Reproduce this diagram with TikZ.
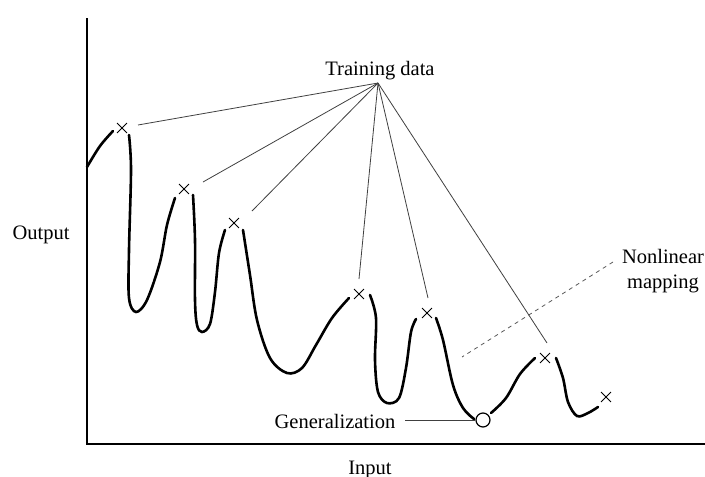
\documentclass[tikz,border=0pt]{standalone}
\usepackage{fontspec}
\setmainfont{Liberation Serif}
\usetikzlibrary{shapes.misc}
\begin{document}
\begin{tikzpicture}[x=1pt,y=-1pt,
  lbl/.style={font=\fontsize{20.5}{24}\selectfont,inner sep=0pt,anchor=base},
  xmark/.style={cross out,draw,line width=0.9pt,minimum size=9pt,inner sep=0pt},
  curve/.style={line width=2.6pt,line cap=round,smooth,tension=0.55},
  ray/.style={draw=black!75,line width=0.8pt},
  axis/.style={line width=1.8pt}]
\useasboundingbox (0,0) rectangle (705,477);

% axes
\draw[axis] (87,18) -- (87,444) -- (705,444);

% axis labels
\node[lbl] (out) at (41,239) {Output};
\node[lbl] (inp) at (370,474) {Input};

% fitted curve, broken at each training point
\draw[curve] plot coordinates {(87,167) (100,146) (113,131)};
\draw[curve] plot coordinates {(129,135) (131,170) (129,250) (129,298) (136,312) (147,300) (160,262) (167,225) (175,198)};
\draw[curve] plot coordinates {(193,195) (195,240) (195,300) (197,325) (202,332) (210,324) (215,292) (219,253) (225,230)};
\draw[curve] plot coordinates {(243,230) (250,275) (257,320) (270,358) (287,373) (302,368) (316,345) (332,318) (349,298)};
\draw[curve] plot coordinates {(370,295) (376,318) (375,360) (378,392) (387,403) (399,398) (406,368) (411,332) (416,319)};
\draw[curve] plot coordinates {(436,318) (443,340) (453,385) (463,408) (474,419)};
\draw[curve] plot coordinates {(491,413) (506,398) (520,374) (535,358)};
\draw[curve] plot coordinates {(556,358) (563,378) (568,402) (577,416) (588,413) (598,407)};

% training points
\node[xmark] (p1) at (122,128) {};
\node[xmark] (p2) at (184,189) {};
\node[xmark] (p3) at (234,223) {};
\node[xmark] (p4) at (359,294) {};
\node[xmark] (p5) at (427,313) {};
\node[xmark] (p6) at (545,358) {};
\node[xmark] (p7) at (606,397) {};

% generalization point
\node[circle,draw,fill=white,line width=1.2pt,minimum size=14pt,inner sep=0pt] (gen) at (483,420) {};

% training data label and its rays
\node[lbl] (td) at (380,75) {Training data};
\coordinate (hub) at (378,83);
\coordinate (e1) at (138,125);
\coordinate (e2) at (203,182);
\coordinate (e3) at (252,211);
\coordinate (e4) at (359,279);
\coordinate (e5) at (428,298);
\coordinate (e6) at (547,343);
\foreach \e in {e1,e2,e3,e4,e5,e6} \draw[ray] (hub) -- (\e);

% generalization label
\node[lbl] (gl) at (335,428) {Generalization};
\coordinate (gs) at (405,420);
\draw[ray] (gs) -- (gen.west);

% nonlinear mapping label
\node[lbl] (nl1) at (663,263) {Nonlinear};
\node[lbl] (nl2) at (663,288) {mapping};
\coordinate (ns) at (613,262);
\coordinate (ne) at (462,357);
\draw[draw=black!65,line width=0.8pt,dash pattern=on 4pt off 4pt] (ns) -- (ne);
\end{tikzpicture}
\end{document}
